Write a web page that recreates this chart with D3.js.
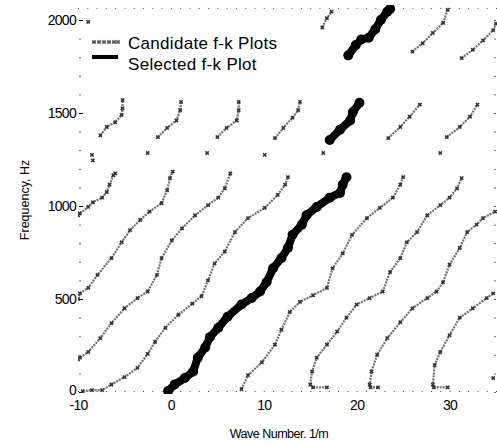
<!DOCTYPE html>
<html>
<head>
<meta charset="utf-8">
<script src="https://cdn.jsdelivr.net/npm/d3@7"></script>
<style>
body { margin: 0; background: #fff; }
svg { font-family: "Liberation Sans", Arial, sans-serif; }
</style>
</head>
<body>
<svg id="fk" width="497" height="444"></svg>
<script>
// points are [wave number 1/m, frequency Hz]

// candidate branches, lower band
var candA = [[-10,950],[-9.8,960],[-8.9,995],[-8.4,1020],[-7.4,1045],[-6.9,1075],[-6.6,1115],[-6.2,1165],[-6.0,1175]];
var candB = [[-10,500],[-9.8,530],[-8.9,560],[-7.9,630],[-6.4,720],[-5.3,805],[-4.4,870],[-3.3,925],[-2.3,970],[-1.0,1015],[-0.4,1085],[-0.1,1150],[0.2,1185]];
var candC = [[-10,175],[-9.8,185],[-8.9,215],[-7.6,290],[-6.4,370],[-5.0,450],[-3.6,505],[-2.5,540],[-1.5,630],[-1.0,720],[0.1,815],[1.2,880],[2.6,950],[4.0,1005],[5.1,1045],[5.8,1095],[6.4,1175]];
var candD = [[-9.5,5],[-8.5,10],[-7.4,10],[-6.4,40],[-5.0,80],[-3.6,130],[-2.5,205],[-1.7,270],[-0.6,345],[0.8,415],[2.3,475],[3.3,515],[4.0,600],[4.7,690],[5.8,755],[6.9,860],[8.3,935],[10.1,990],[11.5,1060],[12.3,1115],[12.6,1155]];
var candF = [[7.6,15],[8.3,90],[9.8,160],[11.2,255],[11.9,335],[12.8,430],[13.9,485],[15.3,520],[16.8,560],[17.4,665],[18.5,745],[19.5,845],[21.1,935],[22.5,990],[23.9,1045],[24.7,1115],[25.0,1155]];
var candG = [[16.8,25],[15.3,25],[15.0,40],[15.2,110],[15.7,185],[16.8,255],[17.9,325],[18.9,400],[20.0,470],[21.4,505],[22.8,540],[23.6,645],[24.7,720],[25.4,805],[26.5,860],[27.6,950],[29.0,1005],[30.0,1045],[30.8,1095],[31.3,1150]];
var candH = [[22.3,25],[21.5,25],[21.4,40],[21.6,110],[22.2,200],[23.3,290],[24.7,375],[26.0,450],[27.6,505],[28.6,540],[29.3,590],[30.0,685],[31.1,775],[31.9,860],[32.9,900],[33.6,935],[34.9,970]];
var candI = [[29.8,25],[28.3,25],[28.2,40],[28.4,145],[29.0,215],[30.0,305],[31.1,400],[32.5,450],[34.0,505],[34.7,530]];

// candidate branches, middle and top bands
var candM1 = [[-7.6,1380],[-6.9,1425],[-6.0,1450],[-5.3,1490],[-5.2,1525],[-5.2,1570]];
var candM2 = [[-1.4,1370],[-0.4,1420],[0.6,1460],[1.0,1515],[1.1,1560]];
var candM3 = [[5.0,1370],[6.0,1420],[7.1,1460],[7.3,1515],[7.3,1560]];
var candM4 = [[11.2,1365],[12.1,1420],[13.1,1475],[13.7,1515],[13.9,1560]];
var candM6 = [[23.4,1365],[24.7,1425],[25.7,1480],[26.8,1545]];
var candM7 = [[29.7,1370],[31.1,1425],[32.2,1480],[33.0,1545]];
var candT1 = [[16.3,1960],[16.8,2010],[17.3,2045]];
var candT3 = [[26.0,1830],[27.1,1875],[28.2,1930],[29.3,1985],[29.8,2055]];
var candT4 = [[31.3,1795],[32.5,1840],[33.6,1890],[34.7,1945],[35.0,1980]];

// stray candidate picks
var strays = [[-8.5,1275],[-8.4,1245],[-2.5,1285],[3.9,1285],[10.1,1275],[16.4,1285],[29.0,1285],[-8.9,1990],[34.7,75]];

// selected branch, three pieces
var selLow = [[-0.3,5],[0.4,40],[1.5,75],[2.4,110],[2.9,185],[3.7,240],[4.2,295],[5.1,345],[6.1,405],[7.6,470],[8.7,505],[9.6,540],[10.3,590],[11.0,665],[11.9,720],[12.6,775],[13.1,845],[14.1,900],[14.6,950],[15.7,995],[17.1,1045],[18.2,1070],[18.5,1115],[18.9,1155]];
var selMid = [[17.1,1355],[18.2,1410],[19.3,1460],[19.6,1505],[20.3,1555]];
var selTop = [[19.1,1810],[19.9,1865],[20.5,1895],[21.3,1905],[22.0,1950],[22.6,2000],[23.3,2045],[23.6,2060]];

var xTicks = [-10, 0, 10, 20, 30];
var yTicks = [0, 500, 1000, 1500, 2000];
var xMinor = d3.range(-10, 36, 1);
var yMinor = d3.range(0, 2001, 100);

var candidates = [candA, candB, candC, candD, candF, candG, candH, candI,
    candM1, candM2, candM3, candM4, candM6, candM7, candT1, candT3, candT4];
var selected = [selLow, selMid, selTop];

var svg = d3.select("#fk");

var x = d3.scaleLinear().domain([-10, 35]).range([78, 496]);
var y = d3.scaleLinear().domain([0, 2000]).range([392, 20]);
var yTop = 2065;

svg.append("clipPath").attr("id", "plot")
    .append("rect")
    .attr("x", x(-10)).attr("y", y(yTop) - 3)
    .attr("width", x(35) - x(-10) + 1)
    .attr("height", y(0) - y(yTop) + 5);

// ticks, no frame lines (the scan lost them)
function noDomain(g) { g.select(".domain").remove(); }

svg.append("g")
    .attr("transform", "translate(79,0)")
    .call(d3.axisLeft(y).tickValues(yMinor).tickSize(-2).tickFormat(""))
    .call(noDomain)
    .selectAll("line").attr("stroke", "#555");

var yAx = svg.append("g")
    .attr("transform", "translate(79,0)")
    .call(d3.axisLeft(y).tickValues(yTicks).tickSize(-4).tickPadding(3).tickFormat(d => String(d)))
    .call(noDomain);
yAx.selectAll("text")
    .style("font-size", "14px")
    .style("letter-spacing", "-0.7px")
    .attr("fill", "#000");
yAx.selectAll(".tick").filter(d => d === 0).select("text").attr("dy", "0.2em");

svg.append("g")
    .attr("transform", "translate(0," + y(0) + ")")
    .call(d3.axisBottom(x).tickValues(xMinor).tickSize(-2).tickFormat(""))
    .call(noDomain)
    .selectAll("line").attr("stroke", "#444").attr("stroke-dasharray", "1,1");

var xAx = svg.append("g")
    .attr("transform", "translate(0," + y(0) + ")")
    .call(d3.axisBottom(x).tickValues(xTicks).tickSize(0).tickPadding(8).tickFormat(d => String(d)))
    .call(noDomain);
xAx.selectAll("text")
    .style("font-size", "14px")
    .style("letter-spacing", "-0.7px")
    .attr("fill", "#000");

svg.append("g")
    .attr("transform", "translate(0," + y(yTop) + ")")
    .call(d3.axisTop(x).tickValues(xMinor).tickSize(-2).tickFormat(""))
    .call(noDomain)
    .selectAll("line").attr("stroke", "#444").attr("stroke-dasharray", "1,1");

svg.append("g")
    .attr("transform", "translate(496,0)")
    .call(d3.axisRight(y).tickValues(yMinor).tickSize(-2).tickFormat(""))
    .call(noDomain)
    .selectAll("line").attr("stroke", "#666");

// data
var line = d3.line().x(d => x(d[0])).y(d => y(d[1]));
var cross = d3.symbol().type(d3.symbolCross).size(12);

var plot = svg.append("g").attr("clip-path", "url(#plot)");

plot.selectAll(".cand")
    .data(candidates)
    .enter()
    .append("path")
    .attr("class", "cand")
    .attr("d", line)
    .attr("fill", "none")
    .attr("stroke", "#707070")
    .attr("stroke-width", 2.2)
    .attr("stroke-dasharray", "2,1");

plot.selectAll(".mark")
    .data(d3.merge(candidates).concat(strays))
    .enter()
    .append("path")
    .attr("class", "mark")
    .attr("d", cross)
    .attr("transform", d => "translate(" + x(d[0]) + "," + y(d[1]) + ") rotate(45)")
    .attr("fill", "#333");

plot.selectAll(".sel")
    .data(selected)
    .enter()
    .append("path")
    .attr("class", "sel")
    .attr("d", line)
    .attr("fill", "none")
    .attr("stroke", "#000")
    .attr("stroke-width", 8)
    .attr("stroke-linejoin", "round")
    .attr("stroke-linecap", "round");

plot.selectAll(".dot")
    .data(d3.merge(selected))
    .enter()
    .append("circle")
    .attr("class", "dot")
    .attr("cx", d => x(d[0]))
    .attr("cy", d => y(d[1]))
    .attr("r", 5)
    .attr("fill", "#000");

// legend
var legend = svg.append("g");
legend.append("line")
    .attr("x1", 92).attr("x2", 118).attr("y1", 42).attr("y2", 42)
    .attr("stroke", "#8a8a8a").attr("stroke-width", 1.6)
    .attr("stroke-dasharray", "1.5,1");
legend.selectAll(".lm")
    .data([94, 99, 104, 109, 114, 118])
    .enter()
    .append("path")
    .attr("d", cross)
    .attr("transform", d => "translate(" + d + ",42) rotate(45)")
    .attr("fill", "#555");
legend.append("line")
    .attr("x1", 92).attr("x2", 118).attr("y1", 57).attr("y2", 57)
    .attr("stroke", "#000").attr("stroke-width", 4);
legend.append("text")
    .attr("x", 128).attr("y", 49)
    .style("font-size", "17px")
    .style("letter-spacing", "0.3px")
    .text("Candidate f-k Plots");
legend.append("text")
    .attr("x", 128).attr("y", 70)
    .style("font-size", "17px")
    .style("letter-spacing", "0.3px")
    .text("Selected f-k Plot");

// axis titles
svg.append("text")
    .attr("transform", "translate(29,200) rotate(-90)")
    .attr("text-anchor", "middle")
    .style("font-size", "12.5px")
    .text("Frequency, Hz");

svg.append("text")
    .attr("x", 279).attr("y", 438)
    .attr("text-anchor", "middle")
    .style("font-size", "12.5px")
    .style("letter-spacing", "-0.5px")
    .text("Wave Number. 1/m");
</script>
</body>
</html>
